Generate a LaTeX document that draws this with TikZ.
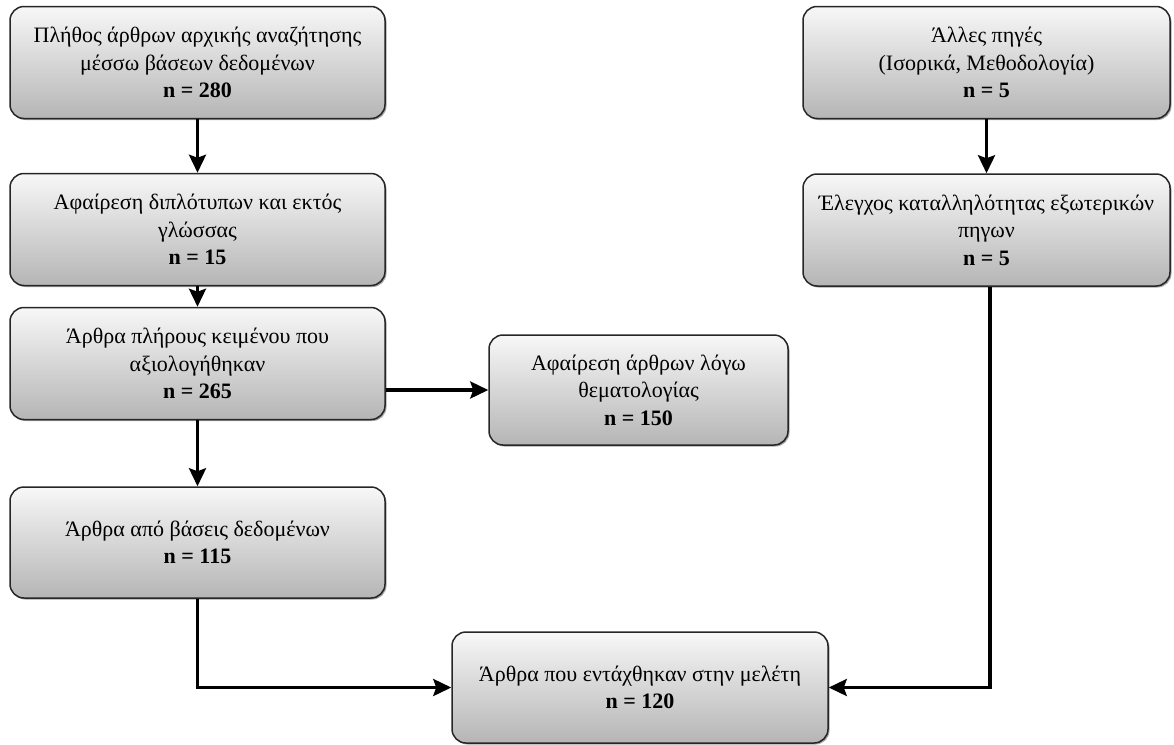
\documentclass[tikz,border=0pt]{standalone}
\usepackage{fontspec}
\setmainfont{Liberation Serif}
\usetikzlibrary{arrows.meta,shadows}
\begin{document}
\begin{tikzpicture}[x=1pt,y=-1pt,
  box/.style={draw=black!85, line width=1.5pt, rounded corners=14pt,
    top color=gray!6, bottom color=gray!58, align=center,
    font=\fontsize{22}{27.5}\selectfont, inner sep=0pt,
    drop shadow={shadow xshift=1.5pt, shadow yshift=-1.5pt, opacity=0.35, fill=black}},
  conn/.style={line width=3.3pt, -{Stealth[length=18pt,width=17pt,inset=3pt]}}]
\useasboundingbox (0,0) rectangle (1174,744);
\node[box, minimum width=375pt, minimum height=112pt] (b1) at (197.5,62.5)
  {Πλήθος άρθρων αρχικής αναζήτησης\\μέσσω βάσεων δεδομένων\\\textbf{n = 280}};
\node[box, minimum width=375pt, minimum height=112pt] (b2) at (197.5,229.5)
  {Αφαίρεση διπλότυπων και εκτός\\γλώσσας\\\textbf{n = 15}};
\node[box, minimum width=375pt, minimum height=112pt] (b3) at (197.5,363.5)
  {Άρθρα πλήρους κειμένου που\\αξιολογήθηκαν\\\textbf{n = 265}};
\node[box, minimum width=299pt, minimum height=110pt] (b4) at (638.5,390)
  {Αφαίρεση άρθρων λόγω\\θεματολογίας\\\textbf{n = 150}};
\node[box, minimum width=375pt, minimum height=111pt] (b5) at (197.5,542.5)
  {Άρθρα από βάσεις δεδομένων\\\textbf{n = 115}};
\node[box, minimum width=376pt, minimum height=111pt] (b6) at (640,687.5)
  {Άρθρα που εντάχθηκαν στην μελέτη\\\textbf{n = 120}};
\node[box, minimum width=367pt, minimum height=112pt] (r1) at (986.5,62.5)
  {Άλλες πηγές\\(Ισορικά, Μεθοδολογία)\\\textbf{n = 5}};
\node[box, minimum width=367pt, minimum height=112pt] (r2) at (986.5,230)
  {Έλεγχος καταλληλότητας εξωτερικών\\πηγων\\\textbf{n = 5}};
\draw[conn] (b1.south) -- (b2.north);
\draw[conn] (b2.south) -- (b3.north);
\draw[conn] (b3.south) -- (b5.north);
\draw[conn] (b3.east |- b4.west) -- (b4.west);
\draw[conn] (r1.south) -- (r2.north);
\draw[conn] (b5.south) |- (b6.west);
\draw[conn] (r2.south -| 990,0) |- (b6.east);
\end{tikzpicture}
\end{document}
